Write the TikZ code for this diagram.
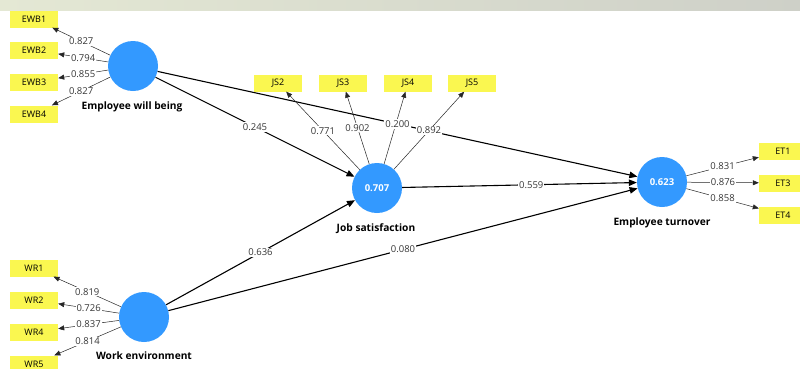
\documentclass[tikz,border=0pt]{standalone}
\usepackage{fontspec}
\setmainfont{Open Sans}
\usetikzlibrary{arrows.meta, positioning}

\definecolor{plsblue}{RGB}{51,153,255}
\definecolor{plsyellow}{RGB}{250,247,80}
\definecolor{coefgray}{RGB}{55,55,55}

\tikzset{
    latent/.style={circle, fill=plsblue, minimum size=50pt, inner sep=0pt, text=white, font=\fontsize{9.5}{11}\selectfont\bfseries},
    indicator/.style={fill=plsyellow, minimum width=48pt, minimum height=17pt, inner sep=0pt, font=\fontsize{9}{10}\selectfont},
    latentname/.style={font=\fontsize{10.2}{12}\selectfont\bfseries},
    loading/.style={-{Triangle[length=6pt,width=5pt]}, line width=0.5pt, draw=black!85},
    structural/.style={-{Triangle[length=8pt,width=6.5pt]}, line width=1.1pt},
    coef/.style={fill=white, inner sep=1pt, font=\fontsize{9.5}{11}\selectfont, text=coefgray}
}

\begin{document}
\begin{tikzpicture}[x=1pt,y=-1pt]
                    \useasboundingbox (0,0) rectangle (800,368);
                    \shade[left color={rgb,255:red,228;green,232;blue,212}, right color={rgb,255:red,206;green,208;blue,200}] (0,0) rectangle (800,10);

                    % latent variables
                    \node[latent] (ewb) at (133,66) {};
                    \node[latent] (js) at (377,188) {0.707};
                    \node[latent] (et) at (662,182) {0.623};
                    \node[latent] (wr) at (144,317) {};

                    \node[latentname] (ewbname) at (132,107) {Employee will being};
                    \node[latentname] (jsname) at (376,229) {Job satisfaction};
                    \node[latentname] (etname) at (662,223) {Employee turnover};
                    \node[latentname] (wrname) at (144,356) {Work environment};

                    % indicators
                    \node[indicator] (ewb1) at (34,19) {EWB1};
                    \node[indicator] (ewb2) at (34,50) {EWB2};
                    \node[indicator] (ewb3) at (34,82) {EWB3};
                    \node[indicator] (ewb4) at (34,114) {EWB4};

                    \node[indicator] (js2) at (278,83) {JS2};
                    \node[indicator] (js3) at (343,83) {JS3};
                    \node[indicator] (js4) at (408,83) {JS4};
                    \node[indicator] (js5) at (472,83) {JS5};

                    \node[indicator] (et1) at (783,151) {ET1};
                    \node[indicator] (et3) at (783,183) {ET3};
                    \node[indicator] (et4) at (783,215) {ET4};

                    \node[indicator] (wr1) at (34,268) {WR1};
                    \node[indicator] (wr2) at (34,300) {WR2};
                    \node[indicator] (wr4) at (34,332) {WR4};
                    \node[indicator] (wr5) at (34,364) {WR5};

                    % hidden under the 0.200 label
                    \draw[loading] (js) -- (js4);

                    % path coefficients
                    \draw[structural] (ewb) -- node[coef] {0.245} (js);
                    \draw[structural] (ewb) -- node[coef] {0.200} (et);
                    \draw[structural] (wr) -- node[coef] {0.636} (js);
                    \draw[structural] (wr) -- node[coef] {0.080} (et);
                    \draw[structural] (js) -- node[coef, pos=0.55] {0.559} (et);

                    % outer loadings
                    \draw[loading] (ewb) -- node[coef] {0.827} (ewb1);
                    \draw[loading] (ewb) -- node[coef] {0.794} (ewb2);
                    \draw[loading] (ewb) -- node[coef] {0.855} (ewb3);
                    \draw[loading] (ewb) -- node[coef] {0.827} (ewb4);

                    \draw[loading] (js) -- node[coef] {0.771} (js2);
                    \draw[loading] (js) -- node[coef] {0.902} (js3);
                    \draw[loading] (js) -- node[coef] {0.892} (js5);

                    \draw[loading] (et) -- node[coef] {0.831} (et1);
                    \draw[loading] (et) -- node[coef] {0.876} (et3);
                    \draw[loading] (et) -- node[coef] {0.858} (et4);

                    \draw[loading] (wr) -- node[coef] {0.819} (wr1);
                    \draw[loading] (wr) -- node[coef] {0.726} (wr2);
                    \draw[loading] (wr) -- node[coef] {0.837} (wr4);
                    \draw[loading] (wr) -- node[coef] {0.814} (wr5);
                \end{tikzpicture}
\end{document}
